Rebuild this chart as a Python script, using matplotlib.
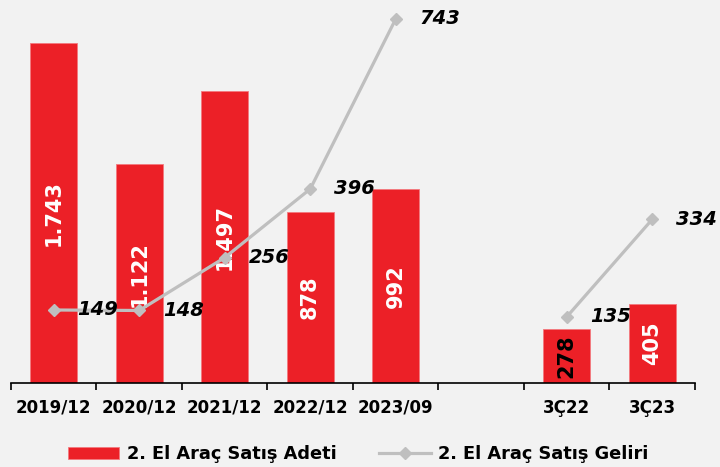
import matplotlib.pyplot as plt
from matplotlib.ticker import FixedLocator

# kategoriler (bos olan bosluk icin)
kategoriler = ['2019/12', '2020/12', '2021/12', '2022/12', '2023/09', '', '3Ç22', '3Ç23']
adet = [1743, 1122, 1497, 878, 992, None, 278, 405]
adet_yazi_renk = ['white', 'white', 'white', 'white', 'white', None, 'black', 'white']

gelir_yil_x = [0, 1, 2, 3, 4]
gelir_yil = [149, 148, 256, 396, 743]
gelir_ceyrek_x = [6, 7]
gelir_ceyrek = [135, 334]

kirmizi = '#EC2027'
gri = '#BFBFBF'
arka = '#F2F2F2'

plt.rcParams['font.family'] = ['DejaVu Sans']

fig = plt.figure(figsize=(7.2, 4.67), dpi=100, facecolor=arka)
ax = fig.add_axes([11 / 720, (467 - 383) / 467, 684 / 720, 378 / 467])
ax.set_facecolor(arka)

bx = [i for i, v in enumerate(adet) if v is not None]
bv = [v for v in adet if v is not None]
ax.bar(bx, bv, width=0.55, color=kirmizi, edgecolor='#F3797E', linewidth=0.6,
       label='2. El Araç Satış Adeti', zorder=2)
ax.set_xlim(-0.5, 7.5)
ax.set_ylim(0, 1743 * 378 / 340)

for i, v in enumerate(adet):
    if v is None:
        continue
    yazi = f'{v:,}'.replace(',', '.')
    ax.text(i, v / 2, yazi, rotation=90, ha='center', va='center', color=adet_yazi_renk[i],
            fontsize=15, fontweight='bold', zorder=3)

ax2 = ax.twinx()
ax2.set_ylim(0, 378 / 0.49)
ax2.plot(gelir_yil_x, gelir_yil, color=gri, lw=2.3, marker='D', ms=6,
         label='2. El Araç Satış Geliri', zorder=4)
ax2.plot(gelir_ceyrek_x, gelir_ceyrek, color=gri, lw=2.3, marker='D', ms=6, zorder=4)

for x, v in list(zip(gelir_yil_x, gelir_yil)) + list(zip(gelir_ceyrek_x, gelir_ceyrek)):
    ax2.annotate(str(v), (x, v), xytext=(17, 0), textcoords='offset points',
                 ha='left', va='center', fontsize=14, fontweight='bold', fontstyle='italic',
                 color='black', zorder=5)

for a in (ax, ax2):
    for s in ['top', 'right', 'left']:
        a.spines[s].set_visible(False)
    a.set_yticks([])
ax.spines['bottom'].set_linewidth(1.2)
ax2.spines['bottom'].set_visible(False)

ax.set_xticks(range(len(kategoriler)))
ax.set_xticklabels(kategoriler, fontsize=12, fontweight='bold')
ax.xaxis.set_minor_locator(FixedLocator([i - 0.5 for i in range(len(kategoriler) + 1)]))
ax.tick_params(axis='x', which='major', length=0, pad=11.5)
ax.tick_params(axis='x', which='minor', length=5, width=1.2, direction='out')

h1, l1 = ax.get_legend_handles_labels()
h2, l2 = ax2.get_legend_handles_labels()
fig.legend(h1 + h2, l1 + l2, loc='center', bbox_to_anchor=(358 / 720, 1 - 454 / 467),
           ncol=2, frameon=False, prop={'weight': 'bold', 'size': 12.8},
           handlelength=2.9, handletextpad=0.4, columnspacing=2.4)

fig.savefig('out.png', dpi=100, facecolor=arka)
